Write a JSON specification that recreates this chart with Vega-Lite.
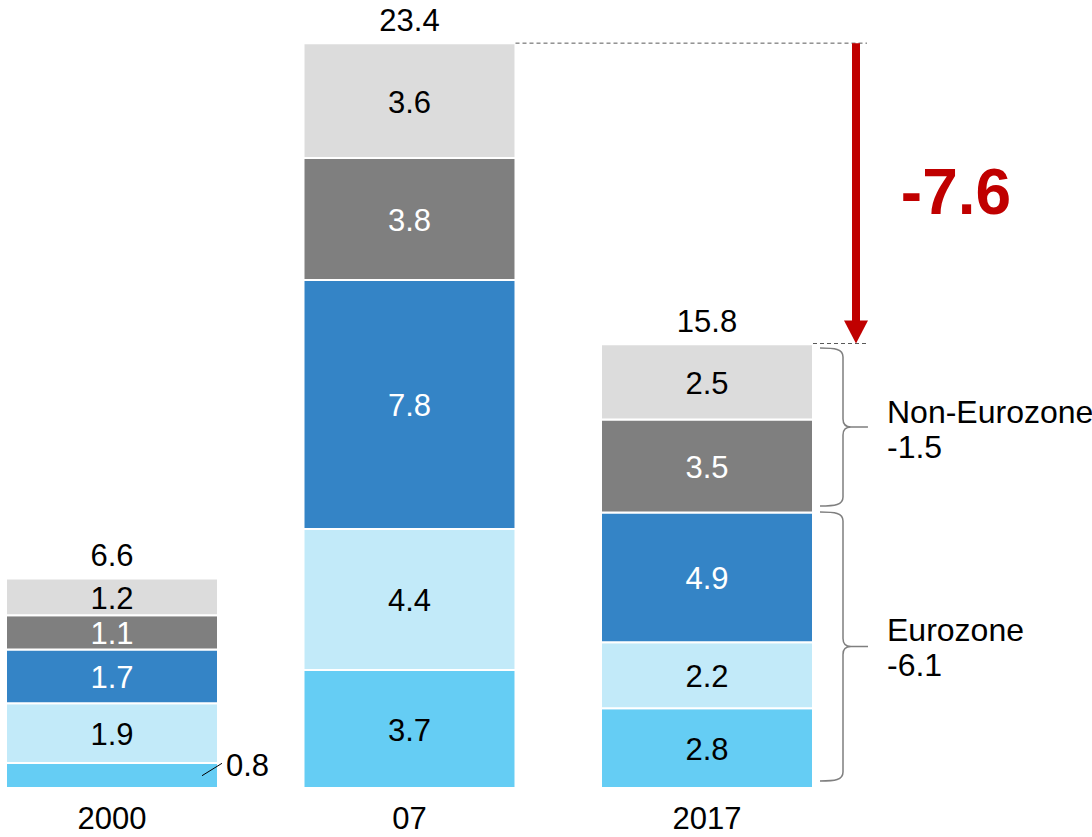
{
  "$schema": "https://vega.github.io/schema/vega-lite/v6.json",
  "width": 807,
  "height": 788,
  "autosize": {"type": "none"},
  "padding": {"left": 6, "top": 0, "right": 279, "bottom": 49},
  "background": "white",
  "config": {"view": {"stroke": null}, "font": "Liberation Sans"},
  "datasets": {
    "segs": [
      {"year": "2000", "seg": "s1", "value": 0.79, "label": "0.8"},
      {"year": "2000", "seg": "s2", "value": 1.88, "label": "1.9"},
      {"year": "2000", "seg": "s3", "value": 1.69, "label": "1.7"},
      {"year": "2000", "seg": "s4", "value": 1.08, "label": "1.1"},
      {"year": "2000", "seg": "s5", "value": 1.16, "label": "1.2"},
      {"year": "07", "seg": "s1", "value": 3.72, "label": "3.7"},
      {"year": "07", "seg": "s2", "value": 4.44, "label": "4.4"},
      {"year": "07", "seg": "s3", "value": 7.84, "label": "7.8"},
      {"year": "07", "seg": "s4", "value": 3.84, "label": "3.8"},
      {"year": "07", "seg": "s5", "value": 3.62, "label": "3.6"},
      {"year": "2017", "seg": "s1", "value": 2.51, "label": "2.8"},
      {"year": "2017", "seg": "s2", "value": 2.08, "label": "2.2"},
      {"year": "2017", "seg": "s3", "value": 4.09, "label": "4.9"},
      {"year": "2017", "seg": "s4", "value": 2.93, "label": "3.5"},
      {"year": "2017", "seg": "s5", "value": 2.37, "label": "2.5"}
    ],
    "tots": [
      {"year": "2000", "total": "6.6"},
      {"year": "07", "total": "23.4"},
      {"year": "2017", "total": "15.8"}
    ]
  },
  "layer": [
    {
      "data": {"name": "segs"},
      "transform": [
        {"stack": "value", "groupby": ["year"], "sort": [{"field": "seg"}], "as": ["y0", "y1"]},
        {"calculate": "(datum.y0 + datum.y1) / 2", "as": "mid"}
      ],
      "layer": [
        {
          "mark": {"type": "bar", "stroke": "white", "strokeWidth": 2},
          "encoding": {
            "x": {
              "field": "year", "type": "nominal",
              "scale": {"domain": ["2000", "07", "2017"], "paddingInner": 0.2874, "paddingOuter": 0},
              "axis": {"title": null, "domain": false, "ticks": false, "tickSize": 0, "labelFontSize": 31, "labelColor": "black", "labelAngle": 0, "labelPadding": 16, "labelFont": "Liberation Sans"}
            },
            "y": {"field": "y0", "type": "quantitative", "scale": {"domain": [0, 24.819], "nice": false, "zero": true}, "axis": null},
            "y2": {"field": "y1"},
            "color": {
              "field": "seg", "type": "nominal",
              "scale": {"domain": ["s1", "s2", "s3", "s4", "s5"], "range": ["#65CDF4", "#C2EAF9", "#3484C6", "#7F7F7F", "#DCDCDC"]},
              "legend": null
            }
          }
        },
        {
          "transform": [{"filter": "!(datum.year == '2000' && datum.seg == 's1')"}],
          "mark": {"type": "text", "fontSize": 31, "dy": 3},
          "encoding": {
            "x": {"field": "year", "type": "nominal"},
            "y": {"field": "mid", "type": "quantitative"},
            "text": {"field": "label"},
            "color": {"condition": {"test": "datum.seg == 's3' || datum.seg == 's4'", "value": "white"}, "value": "black"}
          }
        },
        {
          "transform": [{"filter": "datum.year == '2000' && datum.seg == 's1'"}],
          "mark": {"type": "text", "fontSize": 31, "align": "left", "dx": 114, "dy": -8, "color": "black"},
          "encoding": {
            "x": {"field": "year", "type": "nominal"},
            "y": {"field": "mid", "type": "quantitative"},
            "text": {"field": "label"}
          }
        }
      ]
    },
    {
      "data": {"name": "segs"},
      "transform": [
        {"aggregate": [{"op": "sum", "field": "value", "as": "top"}], "groupby": ["year"]},
        {"lookup": "year", "from": {"data": {"name": "tots"}, "key": "year", "fields": ["total"]}}
      ],
      "mark": {"type": "text", "fontSize": 31, "dy": -21, "color": "black"},
      "encoding": {
        "x": {"field": "year", "type": "nominal"},
        "y": {"field": "top", "type": "quantitative"},
        "text": {"field": "total"}
      }
    },
    {
      "data": {"values": [{}]},
      "mark": {"type": "rule", "color": "black", "strokeWidth": 1, "xOffset": 90, "x2Offset": 110},
      "encoding": {
        "x": {"datum": "2000", "type": "nominal"},
        "x2": {"datum": "2000"},
        "y": {"datum": 0.387, "type": "quantitative"},
        "y2": {"datum": 0.778}
      }
    },
    {
      "data": {"values": [{}]},
      "mark": {"type": "rule", "color": "#595959", "strokeWidth": 1, "strokeDash": [4, 3], "xOffset": 106, "x2Offset": 160},
      "encoding": {
        "x": {"datum": "07", "type": "nominal"},
        "x2": {"datum": "2017"},
        "y": {"datum": 23.46, "type": "quantitative"}
      }
    },
    {
      "data": {"values": [{}]},
      "mark": {"type": "rule", "color": "#595959", "strokeWidth": 1, "strokeDash": [4, 3], "xOffset": 106, "x2Offset": 161},
      "encoding": {
        "x": {"datum": "2017", "type": "nominal"},
        "x2": {"datum": "2017"},
        "y": {"datum": 14.0, "type": "quantitative"}
      }
    },
    {
      "data": {"values": [{}]},
      "mark": {"type": "rule", "color": "#C00000", "strokeWidth": 8, "xOffset": 149},
      "encoding": {
        "x": {"datum": "2017", "type": "nominal"},
        "y": {"datum": 23.46, "type": "quantitative"},
        "y2": {"datum": 14.55}
      }
    },
    {
      "data": {"values": [{}]},
      "mark": {"type": "point", "shape": "M-1,-0.96L1,-0.96L0,0.96Z", "filled": true, "color": "#C00000", "opacity": 1, "size": 576, "xOffset": 149},
      "encoding": {
        "x": {"datum": "2017", "type": "nominal"},
        "y": {"datum": 14.36, "type": "quantitative"}
      }
    },
    {
      "data": {"values": [{"t": "-7.6"}]},
      "mark": {"type": "text", "fontSize": 64, "fontWeight": "bold", "color": "#C00000", "dx": 249},
      "encoding": {
        "x": {"datum": "2017", "type": "nominal"},
        "y": {"datum": 18.68, "type": "quantitative"},
        "text": {"field": "t"}
      }
    },
    {
      "data": {"values": [{}]},
      "mark": {"type": "point", "shape": "M-0.291,-1C-0.101,-1 0,-0.987 0,-0.886L0,-0.101Q0,0 0.101,0L0.316,0M0.101,0Q0,0 0,0.101L0,0.886C0,0.987 -0.101,1 -0.291,1", "filled": false, "color": "#7F7F7F", "strokeWidth": 1.5, "opacity": 1, "size": 24964, "xOffset": 136},
      "encoding": {
        "x": {"datum": "2017", "type": "nominal"},
        "y": {"datum": 11.37, "type": "quantitative"}
      }
    },
    {
      "data": {"values": [{}]},
      "mark": {"type": "point", "shape": "M-0.171,-1C-0.059,-1 0,-0.993 0,-0.933L0,-0.059Q0,0 0.059,0L0.186,0M0.059,0Q0,0 0,0.059L0,0.933C0,0.993 -0.059,1 -0.171,1", "filled": false, "color": "#7F7F7F", "strokeWidth": 1.5, "opacity": 1, "size": 72361, "xOffset": 136},
      "encoding": {
        "x": {"datum": "2017", "type": "nominal"},
        "y": {"datum": 4.457, "type": "quantitative"}
      }
    },
    {
      "data": {"values": [{"t": "Non-Eurozone\n-1.5"}]},
      "mark": {"type": "text", "fontSize": 32, "align": "left", "dx": 180, "lineBreak": "\n", "lineHeight": 35, "color": "black"},
      "encoding": {
        "x": {"datum": "2017", "type": "nominal"},
        "y": {"datum": 11.81, "type": "quantitative"},
        "text": {"field": "t"}
      }
    },
    {
      "data": {"values": [{"t": "Eurozone\n-6.1"}]},
      "mark": {"type": "text", "fontSize": 32, "align": "left", "dx": 180, "lineBreak": "\n", "lineHeight": 35, "color": "black"},
      "encoding": {
        "x": {"datum": "2017", "type": "nominal"},
        "y": {"datum": 4.94, "type": "quantitative"},
        "text": {"field": "t"}
      }
    }
  ]
}
